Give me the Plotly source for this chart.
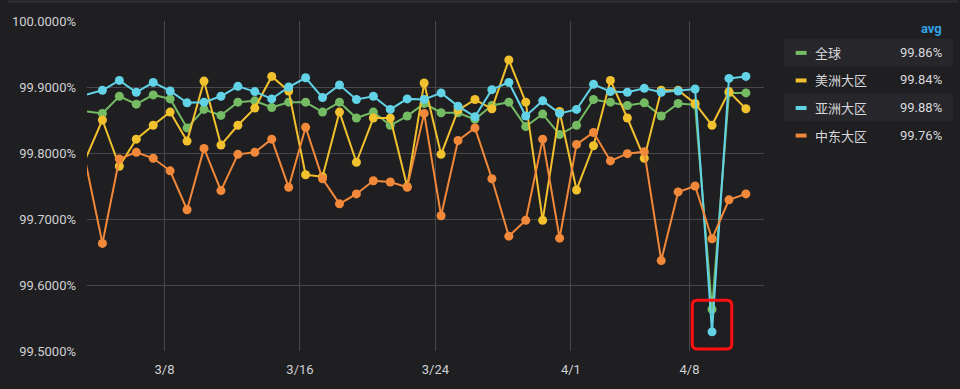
import plotly.graph_objects as go
import pandas as pd

# ---------------- data ----------------
dates = pd.date_range("2023-03-03 08:00", periods=40, freq="D")

series_names = ["全球", "美洲大区", "亚洲大区", "中东大区"]
series_avg = ["99.86%", "99.84%", "99.88%", "99.76%"]

global_vals = [99.863, 99.860, 99.886, 99.874, 99.888, 99.882, 99.838, 99.866, 99.857, 99.877,
               99.879, 99.869, 99.877, 99.877, 99.862, 99.877, 99.853, 99.862, 99.842, 99.856,
               99.875, 99.861, 99.861, 99.851, 99.872, 99.877, 99.840, 99.859, 99.828, 99.842,
               99.881, 99.877, 99.872, 99.876, 99.856, 99.875, 99.873, 99.563, 99.891, 99.891]

america_vals = [99.791, 99.850, 99.780, 99.821, 99.842, 99.862, 99.818, 99.909, 99.812, 99.842,
                99.868, 99.916, 99.894, 99.767, 99.764, 99.862, 99.786, 99.853, 99.853, 99.749,
                99.906, 99.798, 99.865, 99.881, 99.867, 99.941, 99.877, 99.698, 99.863, 99.744,
                99.811, 99.910, 99.853, 99.792, 99.895, 99.895, 99.875, 99.842, 99.893, 99.867]

asia_vals = [99.888, 99.895, 99.910, 99.892, 99.907, 99.894, 99.876, 99.877, 99.886, 99.901,
             99.893, 99.882, 99.900, 99.914, 99.884, 99.903, 99.881, 99.886, 99.866, 99.882,
             99.881, 99.891, 99.871, 99.855, 99.896, 99.907, 99.856, 99.879, 99.860, 99.866,
             99.904, 99.893, 99.892, 99.898, 99.892, 99.894, 99.897, 99.529, 99.913, 99.916]

mideast_vals = [99.787, 99.663, 99.791, 99.801, 99.792, 99.773, 99.714, 99.807, 99.743, 99.798,
                99.801, 99.821, 99.748, 99.839, 99.761, 99.723, 99.738, 99.758, 99.756, 99.748,
                99.860, 99.705, 99.819, 99.838, 99.761, 99.674, 99.698, 99.821, 99.671, 99.813,
                99.831, 99.788, 99.799, 99.802, 99.637, 99.741, 99.750, 99.670, 99.729, 99.738]

tick_dates = ["2023-03-08", "2023-03-16", "2023-03-24", "2023-04-01", "2023-04-08"]
tick_labels = ["3/8", "3/16", "3/24", "4/1", "4/8"]
y_ticks = [99.5, 99.6, 99.7, 99.8, 99.9, 100.0]
y_tick_labels = ["99.5000%", "99.6000%", "99.7000%", "99.8000%", "99.9000%", "100.0000%"]

highlight_date = "2023-04-09 08:00"

# ---------------- style ----------------
colors = ["#74bb64", "#f2c12e", "#62d2e6", "#f2883a"]
bg = "#1f1f22"
grid = "#48484c"
text_col = "#cfd0d3"

W, H = 960, 389
L, R, T, B = 80, 196, 21, 35
PW, PH = W - L - R, H - T - B

x_range = [pd.Timestamp("2023-03-03 10:10"), pd.Timestamp("2023-04-12 09:40")]
y_range = [99.5, 100.0]

def px(X):
    return (X - L) / PW

def py(Y):
    return (H - B - Y) / PH

fig = go.Figure()
all_vals = [global_vals, america_vals, asia_vals, mideast_vals]
for name, vals, col in zip(series_names, all_vals, colors):
    sizes = [0] + [9] * (len(vals) - 1)
    fig.add_trace(go.Scatter(
        x=dates, y=vals, name=name, mode="lines+markers",
        line=dict(color=col, width=2),
        marker=dict(color=col, size=sizes, opacity=1, line=dict(width=0)),
        showlegend=False,
    ))

shapes = []
annotations = []

# top border band
shapes.append(dict(type="rect", xref="paper", yref="paper", x0=px(0), x1=px(W), y0=py(0), y1=py(2.5),
                   fillcolor="#2e2e33", line=dict(width=0), layer="below"))

# red highlight box (rounded), positioned from data coordinates
hl = pd.Timestamp(highlight_date)
span_ms = (x_range[1] - x_range[0]).total_seconds()
def fx(t):
    return (t - x_range[0]).total_seconds() / span_ms
def fy(v):
    return (v - y_range[0]) / (y_range[1] - y_range[0])
bx0 = fx(hl - pd.Timedelta(hours=28))
bx1 = fx(hl + pd.Timedelta(hours=28))
by0 = fy(99.503)
by1 = fy(99.577)
rx, ry = 5 / PW, 5 / PH
path = (f"M{bx0+rx},{by0} L{bx1-rx},{by0} Q{bx1},{by0} {bx1},{by0+ry} "
        f"L{bx1},{by1-ry} Q{bx1},{by1} {bx1-rx},{by1} L{bx0+rx},{by1} Q{bx0},{by1} {bx0},{by1-ry} "
        f"L{bx0},{by0+ry} Q{bx0},{by0} {bx0+rx},{by0} Z")
shapes.append(dict(type="path", xref="paper", yref="paper", path=path,
                   line=dict(color="#ff1010", width=3), fillcolor="rgba(0,0,0,0)"))

# legend table
row_y = [52.7, 80.5, 108.3, 136.1]
for i, (name, avg, col) in enumerate(zip(series_names, series_avg, colors)):
    yc = row_y[i]
    if i % 2 == 0:
        shapes.append(dict(type="rect", xref="paper", yref="paper",
                           x0=px(784), x1=px(955), y0=py(yc - 14), y1=py(yc + 14),
                           fillcolor="#27272b", line=dict(width=0), layer="below"))
    shapes.append(dict(type="line", xref="paper", yref="paper",
                       x0=px(796), x1=px(807), y0=py(yc + 0.5), y1=py(yc + 0.5),
                       line=dict(color=col, width=4)))
    annotations.append(dict(xref="paper", yref="paper", x=px(814), y=py(yc), xanchor="left",
                            yanchor="middle", text=name, showarrow=False,
                            font=dict(family="Noto Sans CJK SC", size=13, color="#d8d9dc")))
    annotations.append(dict(xref="paper", yref="paper", x=px(946), y=py(yc), xanchor="right",
                            yanchor="middle", text=avg, showarrow=False,
                            font=dict(family="Roboto", size=13, color="#d8d9dc")))
annotations.append(dict(xref="paper", yref="paper", x=px(946), y=py(28.5), xanchor="right",
                        yanchor="middle", text="<b>avg</b>", showarrow=False,
                        font=dict(family="Roboto", size=13, color="#33a2e5")))

fig.update_layout(
    width=W, height=H,
    margin=dict(l=L, r=R, t=T, b=B, pad=0),
    paper_bgcolor=bg, plot_bgcolor=bg,
    font=dict(family="Roboto", size=13, color=text_col),
    shapes=shapes, annotations=annotations,
    showlegend=False,
    xaxis=dict(type="date", range=x_range, tickvals=tick_dates, ticktext=tick_labels,
               showgrid=True, gridcolor=grid, gridwidth=1, zeroline=False, showline=False,
               ticks="", ticklabelstandoff=9, tickfont=dict(size=13, color=text_col)),
    yaxis=dict(range=y_range, tickvals=y_ticks, ticktext=y_tick_labels,
               showgrid=True, gridcolor=grid, gridwidth=1, zeroline=False, showline=False,
               ticks="", ticklabelstandoff=10, tickfont=dict(size=13, color=text_col)),
)

fig.write_html("out.html", config={"displayModeBar": False},
               post_script="document.body.style.margin='0';document.body.style.background='#1f1f22';")
